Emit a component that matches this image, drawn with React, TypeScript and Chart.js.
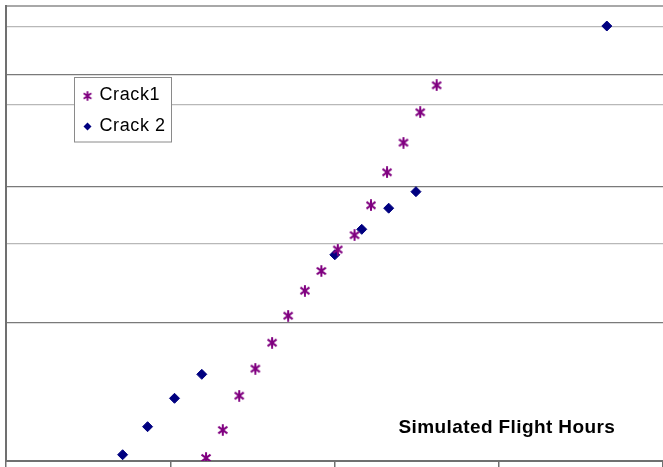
import React, { useEffect, useRef } from "react";
import { Chart, registerables } from "chart.js";

Chart.register(...registerables);

// ---- data ----
const seriesLabels = ["Crack1", "Crack 2"];
const crack1Hours = [6090, 6600, 7100, 7590, 8100, 8590, 9100, 9600, 10100, 10610, 11110, 11600, 12100, 12610, 13110];
const crack1Rank = [0.66, 6.81, 14.35, 20.29, 26.0, 31.93, 37.43, 41.76, 46.48, 49.63, 56.2, 63.45, 69.96, 76.64, 82.57];
const crack2Hours = [3550, 4310, 5130, 5960, 10010, 10830, 11650, 12480, 18290];
const crack2Rank = [1.38, 7.54, 13.78, 19.05, 45.32, 50.92, 55.56, 59.19, 95.6];
const yGridValues = [30.33, 47.69, 60.22, 78.24, 84.84, 95.38, 100];
const yMajorGrid = [30.33, 60.22, 84.84];
const xTickValues = [0, 5000, 10000, 15000, 20000];
const axisTitle = "Simulated Flight Hours";

const PURPLE = "#800080";
const NAVY = "#000080";

function makeAsterisk(color: string, size: number, lw: number) {
  const c = document.createElement("canvas");
  c.width = size;
  c.height = size;
  const g = c.getContext("2d")!;
  const s = size / 12;
  g.strokeStyle = color;
  g.lineWidth = lw;
  g.beginPath();
  g.moveTo(6 * s, 0.3 * s);
  g.lineTo(6 * s, 11.7 * s);
  g.moveTo(1.5 * s, 2.6 * s);
  g.lineTo(10.5 * s, 9.4 * s);
  g.moveTo(10.5 * s, 2.6 * s);
  g.lineTo(1.5 * s, 9.4 * s);
  g.stroke();
  return c;
}

export default function App() {
  const ref = useRef<HTMLCanvasElement | null>(null);

  useEffect(() => {
    if (!ref.current) return;
    const star = makeAsterisk(PURPLE, 12, 2);
    const legendStar = makeAsterisk(PURPLE, 10, 1.8);

    const overlay = {
      id: "overlay",
      afterDraw(chart: any) {
        const ctx = chart.ctx as CanvasRenderingContext2D;
        ctx.save();
        // legend box (inside plot area, top-left)
        const bx = 74.5;
        const by = 77.5;
        ctx.fillStyle = "#ffffff";
        ctx.fillRect(bx, by, 97, 64.5);
        ctx.strokeStyle = "#8a8a8a";
        ctx.lineWidth = 1;
        ctx.strokeRect(bx, by, 97, 64.5);
        const labels = chart.data.datasets.map((d: any) => d.label);
        ctx.drawImage(legendStar, 87.5 - 5, 96 - 5);
        const dx = 87.5, dy = 126.5, r = 4;
        ctx.fillStyle = NAVY;
        ctx.beginPath();
        ctx.moveTo(dx, dy - r);
        ctx.lineTo(dx + r, dy);
        ctx.lineTo(dx, dy + r);
        ctx.lineTo(dx - r, dy);
        ctx.closePath();
        ctx.fill();
        ctx.fillStyle = "#000000";
        ctx.font = "18px 'Liberation Sans', Arial, sans-serif";
        (ctx as any).letterSpacing = "0.6px";
        ctx.textAlign = "left";
        ctx.textBaseline = "alphabetic";
        ctx.fillText(labels[0], 99.5, 100.3);
        ctx.fillText(labels[1], 99.5, 131.3);
        // axis title
        ctx.font = "bold 19px 'Liberation Sans', Arial, sans-serif";
        (ctx as any).letterSpacing = "0.4px";
        ctx.fillText(axisTitle, 398.5, 433.3);
        ctx.restore();
      },
    };

    const chart = new Chart(ref.current, {
      type: "scatter",
      data: {
        datasets: [
          {
            label: seriesLabels[0],
            data: crack1Hours.map((x, i) => ({ x, y: crack1Rank[i] })),
            pointStyle: star as any,
            pointRadius: 6,
            backgroundColor: PURPLE,
            borderColor: PURPLE,
          },
          {
            label: seriesLabels[1],
            data: crack2Hours.map((x, i) => ({ x, y: crack2Rank[i] })),
            pointStyle: "rectRot",
            pointRadius: 5,
            borderWidth: 1,
            backgroundColor: NAVY,
            borderColor: NAVY,
          },
        ],
      },
      options: {
        animation: false,
        responsive: false,
        devicePixelRatio: 1,
        layout: { autoPadding: false, padding: { left: 6, top: 6, right: 0, bottom: 0 } },
        plugins: {
          legend: { display: false },
          tooltip: { enabled: false },
          title: { display: false },
        },
        scales: {
          x: {
            type: "linear",
            min: 0,
            max: 20000,
            afterBuildTicks: (scale: any) => {
              scale.ticks = xTickValues.map((v) => ({ value: v }));
            },
            ticks: { display: false },
            grid: {
              drawOnChartArea: false,
              drawTicks: true,
              tickLength: 6,
              color: "#707070",
              lineWidth: 1.5,
            },
            border: { display: true, color: "#707070", width: 2 },
          },
          y: {
            type: "linear",
            min: 0,
            max: 100,
            afterBuildTicks: (scale: any) => {
              scale.ticks = yGridValues.map((v) => ({ value: v }));
            },
            ticks: { display: false },
            grid: {
              drawTicks: false,
              color: (c: any) =>
                c.tick && c.tick.value === 100
                  ? "#a8a8a8"
                  : c.tick && yMajorGrid.includes(c.tick.value)
                  ? "#7a7a7a"
                  : "#b8b8b8",
              lineWidth: (c: any) => (c.tick && c.tick.value === 100 ? 2 : 1.3),
            },
            border: { display: true, color: "#707070", width: 2 },
          },
        },
      },
      plugins: [overlay],
    });
    return () => chart.destroy();
  }, []);

  return (
    <div style={{ position: "fixed", left: 0, top: 0, width: 663, height: 467, background: "#fff" }}>
      <canvas ref={ref} width={663} height={467} style={{ display: "block" }} />
    </div>
  );
}
